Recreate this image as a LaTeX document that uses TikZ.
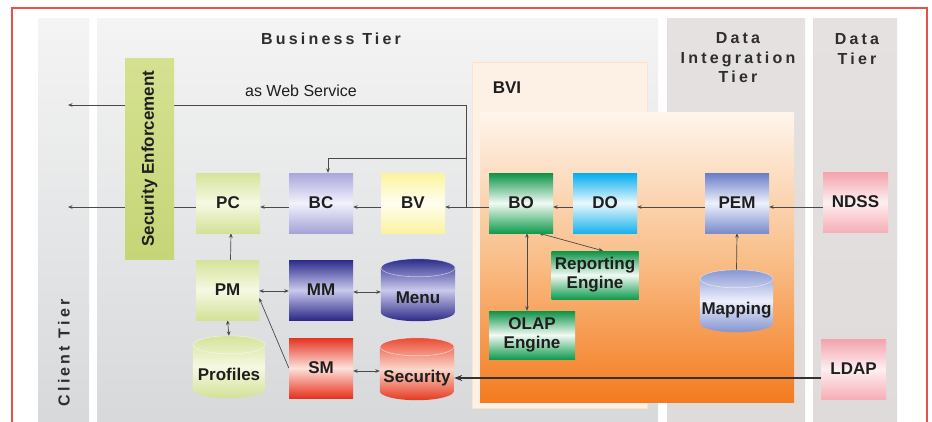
\documentclass[tikz,border=0pt]{standalone}
\usepackage{fontspec}
\setmainfont{Liberation Sans}
\newfontfamily\spacedfont[LetterSpace=20]{Liberation Sans}
\usetikzlibrary{arrows.meta}

\pgfdeclarelayer{panels}
\pgfdeclarelayer{lines}
\pgfdeclarelayer{bodies}
\pgfsetlayers{panels,lines,bodies,main}

% frame, lines, text
\definecolor{framered}{HTML}{E8514A}
\definecolor{lineclr}{HTML}{4A4A4A}
\definecolor{txt}{HTML}{1E1E1E}
\definecolor{hdr}{HTML}{2E2E2E}
% tier panels
\definecolor{paneltop}{HTML}{F4F4F4}
\definecolor{panelbot}{HTML}{D6D8DA}
\definecolor{ditop}{HTML}{E4E1E0}
\definecolor{dibot}{HTML}{DEDBDA}
\definecolor{bvifill}{HTML}{FDF1E6}
\definecolor{bviedge}{HTML}{FAE2CC}
\definecolor{orgtop}{HTML}{FEF5EC}
\definecolor{orgmid}{HTML}{F9BF8A}
\definecolor{orgbot}{HTML}{F47B1F}
% component colours
\definecolor{lgA}{HTML}{D5E39A}\definecolor{lgM}{HTML}{F6F9E2}\definecolor{lgB}{HTML}{D3E197}
\definecolor{seA}{HTML}{D5E190}\definecolor{seB}{HTML}{C6D577}
\definecolor{lvA}{HTML}{A9A7DC}\definecolor{lvM}{HTML}{F2F2FB}\definecolor{lvB}{HTML}{A5A3D7}
\definecolor{ylA}{HTML}{FBF49C}\definecolor{ylM}{HTML}{FFFEF0}\definecolor{ylB}{HTML}{FAF39F}
\definecolor{gnA}{HTML}{0B9346}\definecolor{gnM}{HTML}{F2FAF4}\definecolor{gnB}{HTML}{119B4D}
\definecolor{cyA}{HTML}{00ADEE}\definecolor{cyM}{HTML}{EAF8FD}\definecolor{cyB}{HTML}{18B3EC}
\definecolor{peA}{HTML}{687DC5}\definecolor{peM}{HTML}{EEF1FA}\definecolor{peB}{HTML}{7A8CCB}
\definecolor{pkA}{HTML}{F4A3AC}\definecolor{pkM}{HTML}{FDEFF1}\definecolor{pkB}{HTML}{F6AFB7}
\definecolor{dbA}{HTML}{2B2B8C}\definecolor{dbM}{HTML}{C9C9EC}\definecolor{dbB}{HTML}{2C2A86}
\definecolor{rdA}{HTML}{E53322}\definecolor{rdM}{HTML}{FDE2DA}\definecolor{rdB}{HTML}{E6331F}
\definecolor{srA}{HTML}{EA4B33}\definecolor{srM}{HTML}{FBD6CA}\definecolor{srB}{HTML}{E5381E}
\definecolor{mpA}{HTML}{8797D3}\definecolor{mpM}{HTML}{EDF0FA}\definecolor{mpB}{HTML}{8393CF}

% drum (database) body drawn behind a named label node
\newcommand\drumbody[5]{%
  \path[top color=#3, bottom color=#5, middle color=#4]
    ([yshift=-9pt]#1.north west) -- ([yshift=9pt]#1.south west)
    arc[start angle=180, end angle=360, x radius=#2pt, y radius=9pt]
    -- ([yshift=-9pt]#1.north east)
    arc[start angle=0, end angle=180, x radius=#2pt, y radius=9pt] -- cycle;
  \draw[white, opacity=0.55, line width=0.6pt]
    ([yshift=-9pt]#1.north) ellipse [x radius=#2pt, y radius=9pt];
}

\tikzset{
  comp/.style={rectangle, inner sep=0pt, minimum width=64pt, minimum height=60pt,
    align=center, text=txt, font=\fontsize{17}{19}\selectfont\bfseries},
  tmb/.style n args={3}{top color=#1, bottom color=#3, middle color=#2},
  engine/.style={comp, minimum width=87pt, minimum height=48pt, tmb={gnA}{gnM}{gnB}},
  drum/.style={comp, text height=30pt, text depth=4pt, minimum width=74pt, minimum height=62pt},
  tierhead/.style={text=hdr, align=center, inner sep=0pt,
    font=\fontsize{16}{19.5}\selectfont\spacedfont\bfseries},
  link/.style={draw=lineclr, line width=0.7pt, -{Stealth[length=4.5pt,width=3.6pt]}},
  biLink/.style={draw=lineclr, line width=0.7pt,
    {Stealth[length=4.5pt,width=3.6pt]}-{Stealth[length=4.5pt,width=3.6pt]}},
  heavyLink/.style={draw=black!80, line width=1.3pt, -{Stealth[length=8pt,width=6pt]}},
}

\begin{document}
\begin{tikzpicture}[x=1pt, y=-1pt]
\useasboundingbox (0,0) rectangle (932,421);

% ---------- tier panels ----------
\begin{pgfonlayer}{panels}
  \fill[white] (0,0) rectangle (932,421);
  \shade[top color=paneltop, bottom color=panelbot] (38,18) rectangle (89,430);
  \shade[top color=paneltop, bottom color=panelbot] (97,18) rectangle (658,430);
  \shade[top color=ditop, bottom color=dibot] (667,18) rectangle (805,430);
  \shade[top color=ditop, bottom color=dibot] (813,18) rectangle (897,430);
  \filldraw[fill=bvifill, draw=bviedge, line width=0.8pt] (472,62) rectangle (647,408);
  \shade[top color=orgtop, bottom color=orgbot, middle color=orgmid] (480,112) rectangle (794,402);
  \draw[framered, line width=2pt] (11.5,7.5) rectangle (927,440);
\end{pgfonlayer}

% ---------- headings ----------
\node[tierhead] (bizHead) at (331,39) {Business Tier};
\node[tierhead] (diHead) at (738,58) {Data\\Integration\\Tier};
\node[tierhead] (dHead) at (857,49) {Data\\Tier};
\node[tierhead, rotate=90] (cliHead) at (64,353) {Client Tier};
\node[text=txt, inner sep=0pt, font=\fontsize{17}{19}\selectfont\bfseries] (bviHead) at (507,88) {BVI};
\node[text=txt, inner sep=0pt, font=\fontsize{16}{19}\selectfont] (wsLabel) at (301,91) {as Web Service};

% ---------- components ----------
\node[comp, rotate=90, minimum width=201pt, minimum height=49pt,
      top color=seA, bottom color=seB] (SE) at (149.5,158.5) {Security Enforcement};

\node[comp, tmb={lgA}{lgM}{lgB}] (PC) at (228,203) {PC};
\node[comp, tmb={lvA}{lvM}{lvB}] (BC) at (321,203) {BC};
\node[comp, tmb={ylA}{ylM}{ylB}] (BV) at (413,203) {BV};
\node[comp, tmb={gnA}{gnM}{gnB}] (BO) at (521,203) {BO};
\node[comp, tmb={cyA}{cyM}{cyB}] (DO) at (605,203) {DO};
\node[comp, tmb={peA}{peM}{peB}] (PEM) at (737,203) {PEM};
\node[comp, minimum width=65pt, tmb={pkA}{pkM}{pkB}] (NDSS) at (855.5,202) {NDSS};

\node[comp, minimum width=63pt, tmb={lgA}{lgM}{lgB}] (PM) at (227.5,290) {PM};
\node[comp, tmb={dbA}{dbM}{dbB}] (MM) at (321,290) {MM};
\node[comp, tmb={rdA}{rdM}{rdB}] (SM) at (321,368) {SM};
\node[comp, minimum width=65pt, tmb={pkA}{pkM}{pkB}] (LDAP) at (853.5,369) {LDAP};

\node[engine] (Reporting) at (595,275) {Reporting\\Engine};
\node[engine, minimum width=86pt] (OLAP) at (532,335) {OLAP\\Engine};

\node[drum] (Menu) at (418,290) {Menu};
\node[drum, minimum width=72pt] (Profiles) at (229,367) {Profiles};
\node[drum] (Security) at (417,369) {Security};
\node[drum, minimum width=73pt] (Mapping) at (736.5,301) {Mapping};

\begin{pgfonlayer}{bodies}
  \drumbody{Menu}{37}{dbA}{dbM}{dbB}
  \drumbody{Profiles}{36}{lgA}{lgM}{lgB}
  \drumbody{Security}{37}{srA}{srM}{srB}
  \drumbody{Mapping}{36.5}{mpA}{mpM}{mpB}
\end{pgfonlayer}

% ---------- connectors ----------
\begin{pgfonlayer}{lines}
  \coordinate (cliWS) at (68,105);
  \coordinate (cliMain) at (68,207);
  \coordinate (jn) at (466,207);
  \coordinate (jnTop) at (466,105);
  \coordinate (jnMid) at (466,158);

  % business object results flowing left
  \draw[link] ([yshift=-4pt]BO.west) -- ([yshift=-4pt]BV.east);
  \draw[link] (jn) -- (jnTop) -- (cliWS);
  \draw[link] (jnMid) -| ([xshift=7pt]BC.north);
  \draw[link] ([yshift=-4pt]BV.west) -- ([yshift=-4pt]BC.east);
  \draw[link] ([yshift=-4pt]BC.west) -- ([yshift=-4pt]PC.east);
  \draw[link] ([yshift=-4pt]PC.west) -- (cliMain);

  % data side
  \draw[link] ([yshift=-4pt]DO.west) -- ([yshift=-4pt]BO.east);
  \draw[link] ([yshift=-4pt]PEM.west) -- ([yshift=-4pt]DO.east);
  \draw[link] ([yshift=-5pt]NDSS.west) -- ([yshift=-4pt]PEM.east);
  \draw[link] (Mapping.north) -- (PEM.south);
  \draw[biLink] ([xshift=18pt]BO.south) -- ([xshift=8pt]Reporting.north);
  \draw[biLink] ([xshift=6pt]BO.south) -- ([xshift=-5pt]OLAP.north);

  % presentation management
  \draw[link] ([xshift=3pt]PM.north) -- ([xshift=3pt]PC.south);
  \draw[biLink] (PM.south) -- (Profiles.north);
  \draw[biLink] ([yshift=-1pt]PM.east) -- ([yshift=-1pt]MM.west);
  \draw[biLink] ([yshift=-2pt]MM.east) -- ([yshift=-2pt]Menu.west);
  \draw[link] (SM.west) -- ([yshift=-8pt]PM.east);
  \draw[biLink] ([yshift=-3pt]SM.east) -- ([yshift=-2pt]Security.west);
  \draw[heavyLink] ([yshift=-9pt]LDAP.west) -- ([yshift=-9pt]Security.east);
\end{pgfonlayer}
\end{tikzpicture}
\end{document}
